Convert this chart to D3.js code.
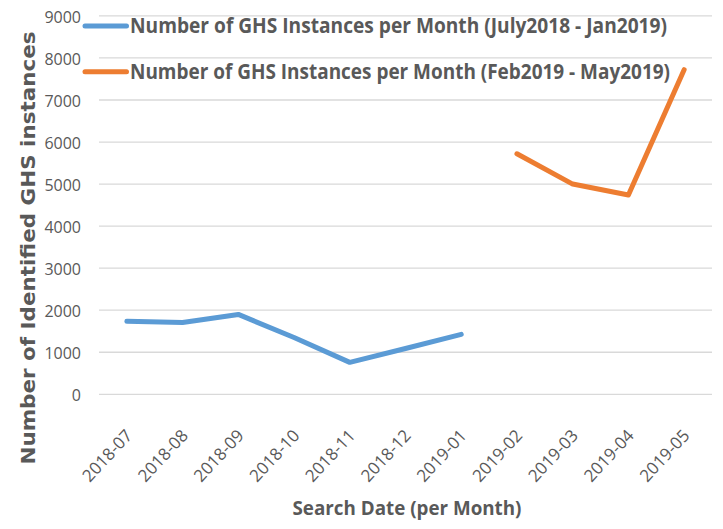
<!DOCTYPE html>
<html>
<head>
<meta charset="utf-8">
<script src="https://cdn.jsdelivr.net/npm/d3@7"></script>
<style>
  html, body { margin: 0; padding: 0; background: #fff; }
  svg { display: block; }
</style>
</head>
<body>
<svg id="chart" width="723" height="529"></svg>
<script>
const categories = ["2018-07","2018-08","2018-09","2018-10","2018-11","2018-12","2019-01","2019-02","2019-03","2019-04","2019-05"];
const seriesNames = [
  "Number of GHS Instances per Month (July2018 - Jan2019)",
  "Number of GHS Instances per Month (Feb2019 - May2019)"
];
const series1 = [1735, 1710, 1900, 1350, 760, 1090, 1425, null, null, null, null];
const series2 = [null, null, null, null, null, null, null, 5720, 5000, 4740, 7720];
const yTicks = [0,1000,2000,3000,4000,5000,6000,7000,8000,9000];
const colors = ["#5b9bd5", "#ed7d31"];
const yTitle = "Number of Identified GHS instances";
const xTitle = "Search Date (per Month)";

(function () {
const svg = d3.select("#chart");
const plotLeft = 99, plotRight = 712, plotTop = 15.9, plotBottom = 394.3;

const x = d3.scalePoint().domain(categories).range([plotLeft, plotRight]).padding(0.5);
const y = d3.scaleLinear().domain([0, 9000]).range([plotBottom, plotTop]);

// gridlines
svg.append("g").selectAll("line").data(yTicks).join("line")
  .attr("x1", plotLeft).attr("x2", plotRight)
  .attr("y1", d => y(d)).attr("y2", d => y(d))
  .attr("stroke", "#d9d9d9").attr("stroke-width", 1.3);

// y axis tick labels
const yAxis = d3.axisLeft(y).tickValues(yTicks).tickSize(0).tickPadding(0).tickFormat(d3.format("d"));
const gy = svg.append("g").attr("transform", "translate(81,0)").call(yAxis);
gy.select(".domain").remove();
gy.selectAll("text")
  .attr("font-family", "'Open Sans', sans-serif")
  .attr("font-size", 16)
  .attr("fill", "#595959")
  .attr("dy", "0.4em");

// x axis tick labels
const xAxis = d3.axisBottom(x).tickSize(0).tickPadding(0);
const gx = svg.append("g").attr("transform", "translate(0," + plotBottom + ")").call(xAxis);
gx.select(".domain").remove();
gx.selectAll("text")
  .attr("font-family", "'Open Sans', sans-serif")
  .attr("font-size", 17)
  .attr("fill", "#595959")
  .attr("text-anchor", "end")
  .attr("dy", 0)
  .attr("y", 0)
  .attr("transform", "translate(6,42) rotate(-47)");

// lines
const line = d3.line()
  .defined(d => d.v !== null)
  .x(d => x(d.c))
  .y(d => y(d.v));

[series1, series2].forEach((s, i) => {
  const data = categories.map((c, j) => ({c: c, v: s[j]}));
  svg.append("path")
    .datum(data)
    .attr("d", line)
    .attr("fill", "none")
    .attr("stroke", colors[i])
    .attr("stroke-width", 5)
    .attr("stroke-linejoin", "round")
    .attr("stroke-linecap", "round");
});

// legend
const legendY = [26, 71.7];
const legendLen = [537, 540];
seriesNames.forEach((name, i) => {
  const g = svg.append("g");
  g.append("line")
    .attr("x1", 85).attr("x2", 126.5)
    .attr("y1", legendY[i]).attr("y2", legendY[i])
    .attr("stroke", colors[i]).attr("stroke-width", 5)
    .attr("stroke-linecap", "round");
  g.append("text")
    .attr("x", 130).attr("y", legendY[i] + 7)
    .attr("font-family", "'Open Sans', sans-serif")
    .attr("font-weight", "bold")
    .attr("font-size", 21)
    .attr("fill", "#595959")
    .attr("textLength", legendLen[i])
    .attr("lengthAdjust", "spacingAndGlyphs")
    .text(name);
});

// axis titles
svg.append("text")
  .attr("transform", "translate(35,248) rotate(-90)")
  .attr("text-anchor", "middle")
  .attr("font-family", "'DejaVu Sans', sans-serif")
  .attr("font-weight", "bold")
  .attr("font-size", 20)
  .attr("fill", "#595959")
  .attr("textLength", 433)
  .attr("lengthAdjust", "spacingAndGlyphs")
  .text(yTitle);

svg.append("text")
  .attr("x", 407).attr("y", 515)
  .attr("text-anchor", "middle")
  .attr("font-family", "'Open Sans', sans-serif")
  .attr("font-weight", "bold")
  .attr("font-size", 20)
  .attr("fill", "#595959")
  .attr("textLength", 229)
  .attr("lengthAdjust", "spacingAndGlyphs")
  .text(xTitle);
})();
</script>
</body>
</html>
